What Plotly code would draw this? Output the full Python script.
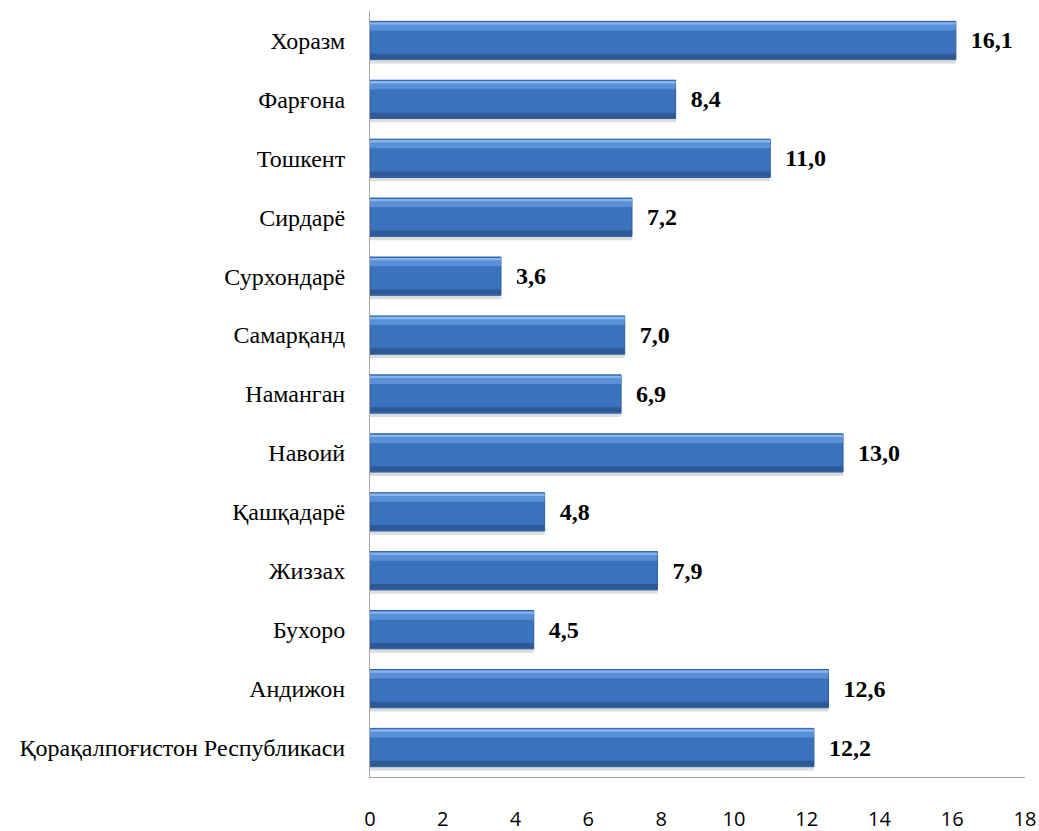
import plotly.graph_objects as go

regions = ["Қорақалпоғистон Республикаси", "Андижон", "Бухоро", "Жиззах", "Қашқадарё",
           "Навоий", "Наманган", "Самарқанд", "Сурхондарё", "Сирдарё", "Тошкент",
           "Фарғона", "Хоразм"]
values = [12.2, 12.6, 4.5, 7.9, 4.8, 13.0, 6.9, 7.0, 3.6, 7.2, 11.0, 8.4, 16.1]
x_ticks = [0, 2, 4, 6, 8, 10, 12, 14, 16, 18]

fig = go.Figure()
# soft shadow under bars
fig.add_trace(go.Bar(
    y=regions, x=values, orientation="h", width=0.07, offset=-0.39,
    marker=dict(color="#dcdcdc", line=dict(width=0)),
    hoverinfo="skip", showlegend=False,
))
# main bar body
fig.add_trace(go.Bar(
    y=regions, x=values, orientation="h", width=0.65, offset=-0.325,
    marker=dict(color="#3a72bd", line=dict(color="#2f5f9f", width=1)),
    texttemplate="\u00a0\u00a0%{x:.1f}", textposition="outside",
    textfont=dict(family="Liberation Serif", size=24, color="#000000", weight="bold"),
    cliponaxis=False, hoverinfo="skip", showlegend=False,
))
# lighter upper highlight
fig.add_trace(go.Bar(
    y=regions, x=values, orientation="h", width=0.12, offset=0.17,
    marker=dict(color="#5a90d6", line=dict(width=0)),
    hoverinfo="skip", showlegend=False,
))
fig.add_trace(go.Bar(
    y=regions, x=values, orientation="h", width=0.04, offset=0.27,
    marker=dict(color="#86b6ee", line=dict(width=0)),
    hoverinfo="skip", showlegend=False,
))
# darker lower band
fig.add_trace(go.Bar(
    y=regions, x=values, orientation="h", width=0.09, offset=-0.315,
    marker=dict(color="#2d5a97", line=dict(width=0)),
    hoverinfo="skip", showlegend=False,
))

fig.update_layout(
    width=1039, height=831,
    margin=dict(l=370, r=14, t=11, b=54),
    paper_bgcolor="white", plot_bgcolor="white",
    barmode="overlay", bargap=0.35,
    separators=", ",
    xaxis=dict(
        range=[0, 18], tickvals=x_ticks, showgrid=False, zeroline=False,
        showline=True, linecolor="#a6a6a6", linewidth=1,
        ticks="", ticklabelstandoff=24, automargin=False,
        tickfont=dict(family="Open Sans", size=20, color="#000000"),
    ),
    yaxis=dict(
        showgrid=False, zeroline=False, showline=True, linecolor="#a6a6a6", linewidth=1,
        ticks="", ticklabelstandoff=19, automargin=False,
        tickfont=dict(family="Liberation Serif", size=24, color="#000000"),
        categoryorder="array", categoryarray=regions,
    ),
)

fig.write_html("out.html", config={"displayModeBar": False},
               post_script="document.body.style.margin='0';document.body.style.overflow='hidden';")
